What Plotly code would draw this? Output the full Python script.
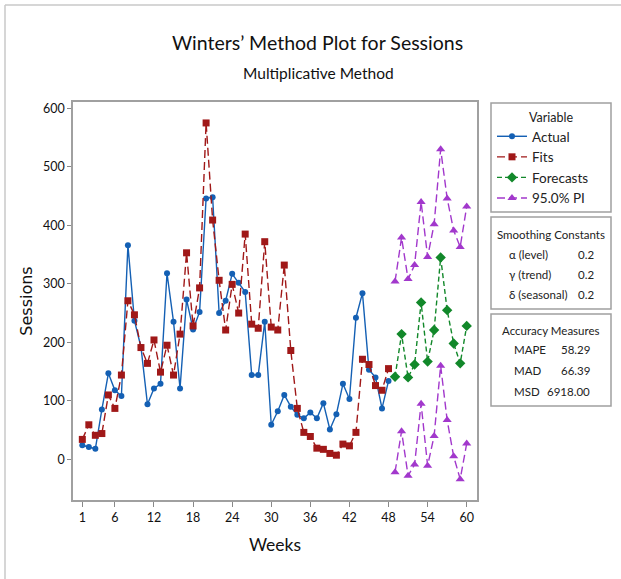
import plotly.graph_objects as go

weeks_hist = list(range(1, 49))
weeks_fc = list(range(49, 61))

actual = [24, 21, 18, 85, 147, 118, 108, 366, 237, 192, 94, 121, 129, 318, 235, 121,
          273, 222, 252, 446, 448, 250, 271, 317, 302, 286, 144, 144, 235, 59, 82, 110,
          90, 76, 70, 80, 70, 96, 51, 77, 129, 103, 242, 284, 153, 140, 87, 134]
fits = [34, 59, 41, 44, 110, 87, 144, 271, 247, 191, 164, 204, 149, 195, 144, 214,
        353, 228, 293, 575, 409, 306, 221, 299, 250, 385, 231, 224, 372, 226, 221, 332,
        186, 87, 46, 39, 19, 17, 10, 7, 26, 23, 46, 171, 162, 126, 118, 155]
forecast = [141, 214, 140, 162, 268, 167, 221, 345, 255, 198, 164, 228]
pi_upper = [304, 379, 308, 332, 440, 346, 402, 530, 446, 391, 363, 432]
pi_lower = [-22, 48, -28, -9, 95, -11, 40, 160, 67, 5, -34, 27]

x_ticks = [1, 6, 12, 18, 24, 30, 36, 42, 48, 54, 60]
y_ticks = [0, 100, 200, 300, 400, 500, 600]

smoothing = [("α (level)", "0.2"), ("γ (trend)", "0.2"), ("δ (seasonal)", "0.2")]
accuracy = [("MAPE", "58.29"), ("MAD", "66.39"), ("MSD", "6918.00")]

BLUE = "#1460b4"
RED = "#a01818"
GREEN = "#12882a"
PURPLE = "#a238cc"
FONT = "Lato, sans-serif"

W, H = 621, 579
L, R, T, B = 73, 477, 102, 500


def px(x):
    return (x - L) / (R - L)


def py(y):
    return (B - y) / (B - T)


fig = go.Figure()
fig.add_trace(go.Scatter(x=weeks_hist, y=actual, name="Actual", mode="lines+markers",
                         line=dict(color=BLUE, width=1.4),
                         marker=dict(symbol="circle", size=6, color=BLUE)))
fig.add_trace(go.Scatter(x=weeks_hist, y=fits, name="Fits", mode="lines+markers",
                         line=dict(color=RED, width=1.4, dash="8px,4px"),
                         marker=dict(symbol="square", size=7, color=RED)))
fig.add_trace(go.Scatter(x=weeks_fc, y=forecast, name="Forecasts", mode="lines+markers",
                         line=dict(color=GREEN, width=1.4, dash="5px,3px"),
                         marker=dict(symbol="diamond", size=8, color=GREEN)))
fig.add_trace(go.Scatter(x=weeks_fc + [None] + weeks_fc, y=pi_upper + [None] + pi_lower,
                         name="95.0% PI", mode="lines+markers",
                         line=dict(color=PURPLE, width=1.4, dash="8px,4px"),
                         marker=dict(symbol="triangle-up", size=8, color=PURPLE)))

shapes = []
# outer border (top and left only)
shapes.append(dict(type="line", xref="paper", yref="paper", x0=px(5), x1=px(621), y0=py(5), y1=py(5),
                   line=dict(color="#c8c8c8", width=1.5)))
shapes.append(dict(type="line", xref="paper", yref="paper", x0=px(5), x1=px(5), y0=py(5), y1=py(579),
                   line=dict(color="#c8c8c8", width=1.5)))
boxes = [(103, 212), (217, 309), (314, 406)]
for y0, y1 in boxes:
    shapes.append(dict(type="rect", xref="paper", yref="paper", x0=px(491), x1=px(611),
                       y0=py(y1), y1=py(y0), line=dict(color="#a0a0a0", width=1.5),
                       fillcolor="rgba(0,0,0,0)"))

annotations = []


def text(x, y, s, size=12, xanchor="center", color="#222"):
    annotations.append(dict(x=px(x), y=py(y), xref="paper", yref="paper", text=s, showarrow=False,
                            xanchor=xanchor, yanchor="middle", font=dict(family=FONT, size=size, color=color)))


text(317, 43, "Winters’ Method Plot for Sessions", size=19.5, color="#111")
text(318, 73, "Multiplicative Method", size=15.5, color="#111")
text(551, 117, "Variable", size=12.5)
text(551, 234, "Smoothing Constants", size=11.5)
for i, (lab, val) in enumerate(smoothing):
    yy = 254 + 20 * i
    text(507, yy, lab, xanchor="left", size=11.5)
    text(596, yy, val, xanchor="right", size=11.5)
text(551, 330, "Accuracy Measures", size=11.5)
for i, (lab, val) in enumerate(accuracy):
    yy = 349 + 21 * i
    text(512, yy, lab, xanchor="left", size=11.5)
    text(592, yy, val, xanchor="right", size=11.5)

fig.update_layout(
    width=W, height=H,
    margin=dict(l=L, r=W - R, t=T, b=H - B),
    paper_bgcolor="white", plot_bgcolor="white",
    font=dict(family=FONT, size=12, color="#222"),
    showlegend=True,
    legend=dict(x=px(492), y=py(121), xanchor="left", yanchor="top", bgcolor="rgba(0,0,0,0)",
                borderwidth=0, itemwidth=30, font=dict(family=FONT, size=13.5, color="#222"),
                tracegroupgap=0),
    shapes=shapes, annotations=annotations,
    xaxis=dict(range=[-0.43, 61.58], tickvals=x_ticks, ticks="outside", ticklen=5, tickcolor="#888",
               showline=True, mirror=True, linecolor="#a0a0a0", linewidth=1.5, showgrid=False,
               zeroline=False, tickfont=dict(family=FONT, size=12.5, color="#111"),
               title=dict(text="Weeks", font=dict(family=FONT, size=17.5, color="#111"), standoff=15)),
    yaxis=dict(range=[-69.6, 610.8], tickvals=y_ticks, ticks="outside", ticklen=4, tickcolor="#888",
               showline=True, mirror=True, linecolor="#a0a0a0", linewidth=1.5, showgrid=False,
               zeroline=False, tickfont=dict(family=FONT, size=12.5, color="#111"),
               title=dict(text="Sessions", font=dict(family="DejaVu Sans", size=16, color="#111"), standoff=6)),
)

fig.write_html("out.html", config={"displayModeBar": False},
               post_script="document.body.style.margin='0';")
